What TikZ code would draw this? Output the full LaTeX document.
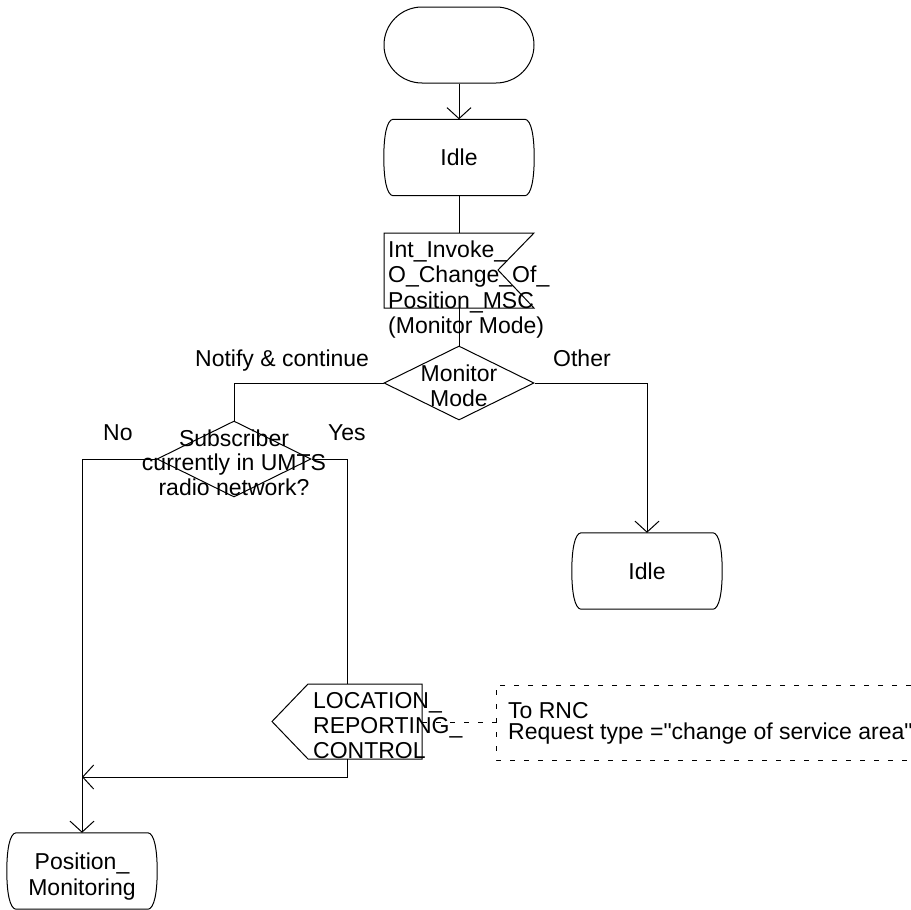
\documentclass[tikz,border=0pt]{standalone}
\usepackage{fontspec}
\setmainfont{Liberation Sans}[Ligatures=TeXOff]
\usetikzlibrary{arrows.meta,calc,shapes.geometric}

\tikzset{
  line/.style={line width=1pt, draw=black},
  arr/.style={line, -{Straight Barb[length=11pt,width=24pt]}},
  txt/.style={inner sep=0pt, font=\fontsize{23}{25.2}\selectfont},
  box/.style={inner sep=0pt, minimum width=150pt, minimum height=76pt, font=\fontsize{23}{25.2}\selectfont},
  dia/.style={diamond, line, draw, inner sep=0pt, minimum width=150pt, minimum height=74pt},
  cmtline/.style={line, dash pattern=on 5pt off 9pt},
}

\newcommand\sdlstate[1]{%
  \draw[line] ($(#1.north west)+(9,0)$) -- ($(#1.north east)+(-9,0)$)
    .. controls ($(#1.north east)+(-3,1)$) and ($(#1.east)+(0,-22)$) .. (#1.east)
    .. controls ($(#1.east)+(0,22)$) and ($(#1.south east)+(-3,-1)$) .. ($(#1.south east)+(-9,0)$)
    -- ($(#1.south west)+(9,0)$)
    .. controls ($(#1.south west)+(3,-1)$) and ($(#1.west)+(0,22)$) .. (#1.west)
    .. controls ($(#1.west)+(0,-22)$) and ($(#1.north west)+(3,1)$) .. ($(#1.north west)+(9,0)$)
    -- cycle;}

\begin{document}
\begin{tikzpicture}[x=1pt,y=-1pt]
\useasboundingbox (0,0) rectangle (911,910);

% start terminal
\node[box, line, draw, rounded corners=38pt] (start) at (459,45) {};

% idle state 1
\node[box] (idle1) at (459,157.5) {Idle};
\sdlstate{idle1}

% input signal
\draw[line] (384,233) -- (534,233) -- (498,270) -- (534,308) -- (384,308) -- cycle;
\coordinate (intop) at (459,233);
\coordinate (inbot) at (459,308);
\node[txt, anchor=base west, align=left, font=\fontsize{23}{25.5}\selectfont] (intext) at (388,333.5)
  {Int\_Invoke\_\\O\_Change\_Of\_\\Position\_MSC\\(Monitor Mode)};

% decision 1
\node[dia] (dec1) at (459,383) {};
\node[txt, anchor=base, align=center] (dec1text) at (459,406.5) {Monitor\\Mode};
\node[txt, anchor=base west] (lnotify) at (195,366) {Notify \& continue};
\node[txt, anchor=base west] (lother) at (553,366) {Other};

% decision 2
\node[dia, minimum width=154pt, minimum height=76pt] (dec2) at (234,459) {};
\node[txt, anchor=base, align=center, font=\fontsize{23}{24.5}\selectfont] (dec2text) at (234,495)
  {Subscriber\\currently in UMTS\\radio network?};
\node[txt, anchor=base west] (lno) at (103,440) {No};
\node[txt, anchor=base west] (lyes) at (328,440) {Yes};

% idle state 2
\node[box] (idle2) at (647,571) {Idle};
\sdlstate{idle2}

% output signal
\draw[line] (308,684) -- (422,684) -- (422,759) -- (308,759) -- (272,721.5) -- cycle;
\coordinate (outtop) at (347,684);
\coordinate (outbot) at (347,759);
\coordinate (outright) at (422,722);
\node[txt, anchor=base west, align=left] (outtext) at (313,758.5)
  {LOCATION\_\\REPORTING\_\\CONTROL};

% comment
\draw[cmtline] (911,685) -- (496,685) -- (496,760) -- (911,760);
\coordinate (cmt) at (496,722);
\node[txt, anchor=base west, align=left, font=\fontsize{23}{21}\selectfont] (cmttext) at (508,739)
  {To RNC\\Request type ="change of service area"};

% position monitoring state
\node[box] (posmon) at (82,871) {};
\sdlstate{posmon}
\node[txt, anchor=base, align=center] (posmontext) at (82,895) {Position\_\\Monitoring};

\coordinate (merge) at (82,777);

% connectors
\draw[arr] (start.south) -- (idle1.north);
\draw[line] (idle1.south) -- (intop);
\draw[line] (inbot) -- (dec1.north);
\draw[line] (dec1.west) -| (dec2.north);
\draw[arr] (dec1.east) -| (idle2.north);
\draw[arr] (dec2.west) -| (posmon.north);
\draw[line] (dec2.east) -| (outtop);
\draw[arr] (outbot) |- (merge);
\draw[cmtline] (outright) -- (cmt);
\end{tikzpicture}
\end{document}
